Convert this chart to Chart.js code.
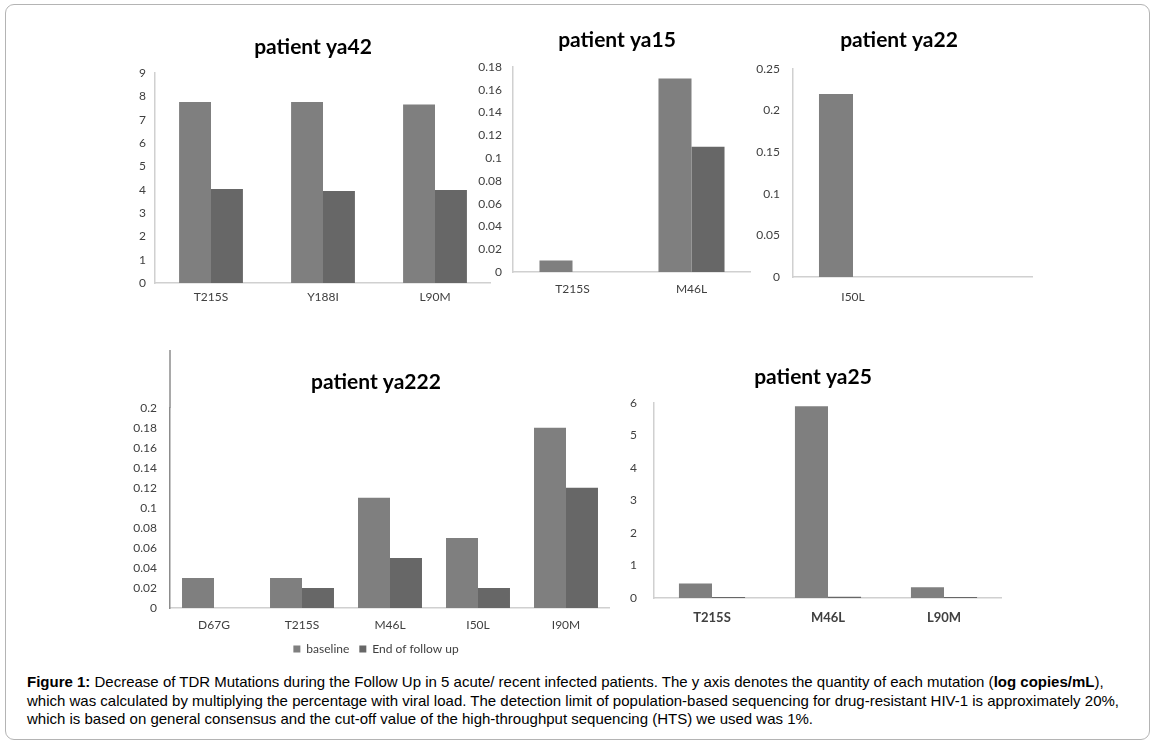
<!DOCTYPE html>
<html>
<head>
<meta charset="utf-8">
<script src="https://cdn.jsdelivr.net/npm/chart.js@4.4.1/dist/chart.umd.min.js"></script>
<style>
  body { margin: 0; background: #fff; width: 1155px; height: 743px; position: relative; overflow: hidden; }
  #frame { position: absolute; left: 5px; top: 4px; width: 1143px; height: 734px; border: 1.5px solid #b4b4b4; border-radius: 9px; }
  canvas { position: absolute; }
  #caption { position: absolute; left: 27px; top: 673px; font-family: "Liberation Sans Narrow", "Arial Narrow", "Liberation Sans", sans-serif;
             font-size: 15px; line-height: 18.5px; color: #000; white-space: nowrap; }
</style>
</head>
<body>
<div id="frame"></div>
<canvas id="c42" width="366" height="285" style="left:125px;top:28px"></canvas>
<canvas id="c15" width="283" height="282" style="left:468px;top:20px"></canvas>
<canvas id="c22" width="285" height="287" style="left:748px;top:20px"></canvas>
<canvas id="c222" width="485" height="315" style="left:125px;top:350px"></canvas>
<canvas id="c25" width="388" height="271" style="left:614px;top:357px"></canvas>
<div id="caption"><b>Figure 1:</b> Decrease of TDR Mutations during the Follow Up in 5 acute/ recent infected patients. The y axis denotes the quantity of each mutation (<b>log copies/mL</b>),<br>which was calculated by multiplying the percentage with viral load. The detection limit of population-based sequencing for drug-resistant HIV-1 is approximately 20%,<br>which is based on general consensus and the cut-off value of the high-throughput sequencing (HTS) we used was 1%.</div>
<script>
// patient ya42
const ya42Labels = ['T215S', 'Y188I', 'L90M'];
const ya42Base = [7.76, 7.76, 7.65];
const ya42End = [4.03, 3.94, 3.99];
const ya42Ticks = ['0', '1', '2', '3', '4', '5', '6', '7', '8', '9'];

// patient ya15
const ya15Labels = ['T215S', 'M46L'];
const ya15Base = [0.01, 0.17];
const ya15End = [0, 0.11];
const ya15Ticks = ['0', '0.02', '0.04', '0.06', '0.08', '0.1', '0.12', '0.14', '0.16', '0.18'];

// patient ya22 (second slot is an empty category)
const ya22Labels = ['I50L', ''];
const ya22Base = [0.22, null];
const ya22End = [0, null];
const ya22Ticks = ['0', '0.05', '0.1', '0.15', '0.2', '0.25'];

// patient ya222
const ya222Labels = ['D67G', 'T215S', 'M46L', 'I50L', 'I90M'];
const ya222Base = [0.03, 0.03, 0.11, 0.07, 0.18];
const ya222End = [0, 0.02, 0.05, 0.02, 0.12];
const ya222Ticks = ['0', '0.02', '0.04', '0.06', '0.08', '0.1', '0.12', '0.14', '0.16', '0.18', '0.2'];

// patient ya25
const ya25Labels = ['T215S', 'M46L', 'L90M'];
const ya25Base = [0.45, 5.9, 0.33];
const ya25End = [0.03, 0.04, 0.03];
const ya25Ticks = ['0', '1', '2', '3', '4', '5', '6'];

const seriesNames = ['baseline', 'End of follow up'];
const FONT = 'Lato, "Open Sans", sans-serif';

// excel centres title/legend over the whole plot incl. tick labels, nudge ours sideways
const shiftBoxes = {
  id: 'shiftBoxes',
  afterLayout(chart, args, opts) {
    [chart.titleBlock, chart.legend].forEach(b => {
      if (b) { b.left += opts.dx; b.right += opts.dx; }
    });
  }
};

// draws the y axis line on up to the top of the canvas (ya222 panel)
const tallAxis = {
  id: 'tallAxis',
  afterDraw(chart, args, opts) {
    if (!opts.on) return;
    const c = chart.ctx, x = chart.chartArea.left;
    c.save();
    c.strokeStyle = opts.color;
    c.lineWidth = 1.5;
    c.beginPath();
    c.moveTo(x, 0);
    c.lineTo(x, chart.chartArea.top);
    c.stroke();
    c.restore();
  }
};

function makeChart(id, o) {
  return new Chart(document.getElementById(id), {
    type: 'bar',
    data: {
      labels: o.labels,
      datasets: [
        { label: seriesNames[0], data: o.base, backgroundColor: '#7f7f7f', borderWidth: 0 },
        { label: seriesNames[1], data: o.end, backgroundColor: '#676767', borderWidth: 0 }
      ]
    },
    options: {
      responsive: false,
      animation: false,
      layout: { padding: 0 },
      datasets: { bar: { categoryPercentage: o.cat, barPercentage: 1 } },
      plugins: {
        tooltip: { enabled: false },
        shiftBoxes: { dx: o.dx },
        tallAxis: { on: !!o.tall, color: '#8c8c8c' },
        title: {
          display: true,
          text: o.title,
          color: '#000',
          font: { family: FONT, size: 21, weight: 'bold', lineHeight: 1.2 },
          padding: { top: o.tTop, bottom: o.tBot }
        },
        legend: {
          display: !!o.legend,
          position: 'bottom',
          labels: { boxWidth: 7, boxHeight: 7, color: '#404040', font: { family: FONT, size: 12 }, padding: 10 }
        }
      },
      scales: {
        x: {
          grid: { display: false, drawTicks: false },
          border: { color: '#d0d0d0', width: 1.5 },
          ticks: { color: '#404040', padding: o.xPad, font: { family: FONT, size: o.xBold ? 13 : 12, weight: o.xBold ? 'bold' : 'normal' }, maxRotation: 0 },
          afterFit(s) { s.height = o.xH; }
        },
        y: {
          min: 0,
          max: o.max,
          grid: { display: false, drawTicks: false },
          border: { color: o.tall ? '#8c8c8c' : '#d0d0d0', width: 1.5 },
          ticks: {
            stepSize: o.step,
            color: '#404040',
            padding: o.yPad,
            font: { family: FONT, size: 12 },
            callback: (v, i) => o.ticks[i]
          },
          afterFit(s) { s.width = o.yW; }
        }
      }
    },
    plugins: [shiftBoxes, tallAxis]
  });
}

makeChart('c42', { labels: ya42Labels, base: ya42Base, end: ya42End, ticks: ya42Ticks, title: 'patient ya42',
  max: 9, step: 1, yW: 30, yPad: 9, xPad: 7, xH: 30, cat: 0.57, tTop: 6.4, tBot: 13.4, dx: 5 });
makeChart('c15', { labels: ya15Labels, base: ya15Base, end: ya15End, ticks: ya15Ticks, title: 'patient ya15',
  max: 0.18, step: 0.02, yW: 45, yPad: 11, xPad: 10, xH: 30, cat: 0.555, tTop: 7.4, tBot: 14.4, dx: 7.5 });
makeChart('c22', { labels: ya22Labels, base: ya22Base, end: ya22End, ticks: ya22Ticks, title: 'patient ya22',
  max: 0.25, step: 0.05, yW: 45, yPad: 13, xPad: 13, xH: 30, cat: 0.567, tTop: 7.4, tBot: 16.4, dx: 8.5 });
makeChart('c222', { labels: ya222Labels, base: ya222Base, end: ya222End, ticks: ya222Ticks, title: 'patient ya222',
  max: 0.2, step: 0.02, yW: 45, yPad: 13, xPad: 10, xH: 25, cat: 0.727, tTop: 19.4, tBot: 13.1, dx: 8.5, legend: true, tall: true });
makeChart('c25', { labels: ya25Labels, base: ya25Base, end: ya25End, ticks: ya25Ticks, title: 'patient ya25',
  max: 6, step: 1, yW: 40, yPad: 17, xPad: 12, xH: 30, cat: 0.57, tTop: 7.4, tBot: 13.4, dx: 5, xBold: true });
</script>
</body>
</html>
